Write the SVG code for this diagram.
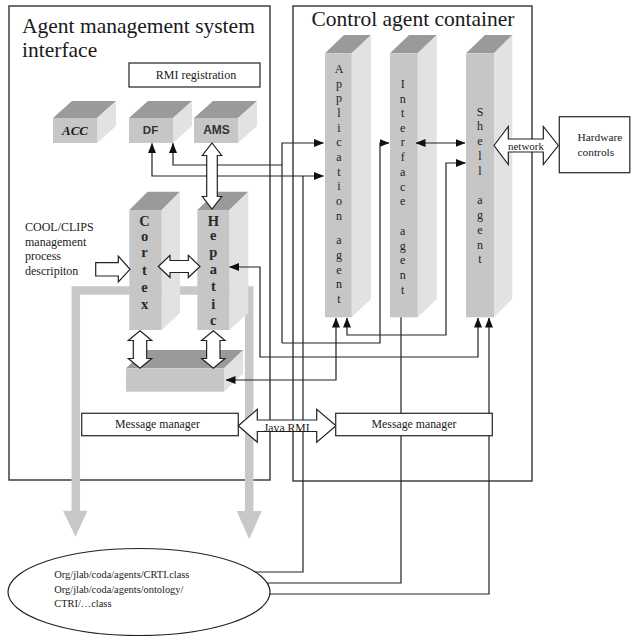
<svg xmlns="http://www.w3.org/2000/svg" width="631" height="636" viewBox="0 0 631 636">
<defs>
<style>
.frame{fill:none;stroke:#333;stroke-width:1.4}
.box{fill:#fff;stroke:#333;stroke-width:1.3}
.top{fill:#9a9a9a}
.front{fill:#c6c6c6}
.side{fill:#e2e2e2}
.hollow{fill:#fff;stroke:#222;stroke-width:1.2;stroke-linejoin:miter}
.c{fill:none;stroke:#222;stroke-width:1.2}
.band{fill:none;stroke:#c8c8c8;stroke-width:8.5}
.serif{font-family:"Liberation Serif","Times New Roman",serif;fill:#1a1a1a}
.sans{font-family:"Liberation Sans",Arial,sans-serif;fill:#333}
.title{font-size:21.5px}
.small{font-size:12px}
.col{font-family:"Liberation Serif","Times New Roman",serif;font-size:12px;fill:#222;text-anchor:middle}
.bcol{font-family:"Liberation Serif","Times New Roman",serif;font-size:14.5px;font-weight:bold;fill:#2a2a2a;text-anchor:middle}
.mid{text-anchor:middle}
</style>
<marker id="ah" markerWidth="10" markerHeight="8" refX="9.5" refY="4" orient="auto-start-reverse" markerUnits="userSpaceOnUse">
<path d="M0,0 L10,4 L0,8 z" fill="#111"/>
</marker>
</defs>
<rect x="0" y="0" width="631" height="636" fill="#fff"/>

<g id="containers">
<rect class="frame" x="9" y="6" width="261" height="474"/>
<rect class="frame" x="293" y="6" width="239" height="475"/>
<text class="serif title" x="22" y="33">Agent management system</text>
<text class="serif title" x="22" y="57">interface</text>
<text class="serif title" x="311.5" y="26">Control agent container</text>
</g>

<g id="gray-band">
<path class="band" d="M75.8,512 V290.5 H249.2 V512"/>
<polygon points="63,510.7 87.5,510.7 75.5,536.7" fill="#c8c8c8"/>
<polygon points="236.7,511 261.7,511 249.2,539.3" fill="#c8c8c8"/>
</g>

<g id="acc">
<polygon class="top" points="53,118 72,101 116,101 97,118"/>
<polygon class="side" points="97,118 116,101 116,126 97,143"/>
<rect class="front" x="53" y="118" width="44" height="25"/>
<text class="serif mid" x="75" y="135" font-size="13" font-weight="bold" font-style="italic" fill="#333">ACC</text>
</g>
<g id="df">
<polygon class="top" points="129,118 148,101 192,101 173,118"/>
<polygon class="side" points="173,118 192,101 192,126 173,143"/>
<rect class="front" x="129" y="118" width="44" height="25"/>
<text class="sans mid" x="150.5" y="134" font-size="11.5" font-weight="bold">DF</text>
</g>
<g id="ams">
<polygon class="top" points="194,118 213,101 257,101 238,118"/>
<polygon class="side" points="238,118 257,101 257,126 238,143"/>
<rect class="front" x="194" y="118" width="44" height="25"/>
<text class="sans mid" x="216.5" y="134" font-size="12" font-weight="bold">AMS</text>
</g>

<g id="cortex">
<polygon class="top" points="129.3,210 147.6,191.7 180,191.7 161.7,210"/>
<polygon class="side" points="161.7,210 180,191.7 180,313 161.7,330"/>
<rect class="front" x="129.3" y="210" width="32.4" height="120"/>
<text class="bcol" x="144.5"><tspan x="144.5" y="225.7">C</tspan><tspan x="144.5" y="240.6">o</tspan><tspan x="144.5" y="257.3">r</tspan><tspan x="144.5" y="275">t</tspan><tspan x="144.5" y="291.6">e</tspan><tspan x="144.5" y="309.3">x</tspan></text>
</g>
<g id="hepatic">
<polygon class="top" points="197.3,210 216,191.7 248.3,191.7 229.3,210"/>
<polygon class="side" points="229.3,210 248.3,191.7 248.3,313 229.3,330"/>
<rect class="front" x="197.3" y="210" width="32" height="120"/>
<text class="bcol" x="213.3"><tspan x="213.3" y="225.7">H</tspan><tspan x="213.3" y="240.3">e</tspan><tspan x="213.3" y="257.3">p</tspan><tspan x="213.3" y="274">a</tspan><tspan x="213.3" y="291">t</tspan><tspan x="213.3" y="309">i</tspan><tspan x="213.3" y="325">c</tspan></text>
</g>
<g id="store">
<polygon class="top" points="126,368.3 145,350 243.3,350 224,368.3"/>
<polygon class="side" points="224,368.3 243.3,350 243.3,373.4 224,391.7"/>
<rect class="front" x="126" y="368.3" width="98" height="23.4"/>
</g>

<g id="application-agent">
<polygon class="top" points="325,53.3 344,35 371,35 351.7,53.3"/>
<polygon class="side" points="351.7,53.3 371,35 371,299 351.7,317.3"/>
<rect class="front" x="325" y="53.3" width="26.7" height="264"/>
<text class="col"><tspan x="339" y="73">A</tspan><tspan x="339" y="87.5">p</tspan><tspan x="339" y="102">p</tspan><tspan x="339" y="117">l</tspan><tspan x="339" y="131.5">i</tspan><tspan x="339" y="146">c</tspan><tspan x="339" y="161">a</tspan><tspan x="339" y="175.5">t</tspan><tspan x="339" y="190">i</tspan><tspan x="339" y="205">o</tspan><tspan x="339" y="219.5">n</tspan><tspan x="339" y="244">a</tspan><tspan x="339" y="259">g</tspan><tspan x="339" y="273.5">e</tspan><tspan x="339" y="288">n</tspan><tspan x="339" y="303">t</tspan></text>
</g>
<g id="interface-agent">
<polygon class="top" points="390,53.3 409,35 436.7,35 417.7,53.3"/>
<polygon class="side" points="417.7,53.3 436.7,35 436.7,299 417.7,317.3"/>
<rect class="front" x="390" y="53.3" width="27.7" height="264"/>
<text class="col"><tspan x="402.7" y="87.5">I</tspan><tspan x="402.7" y="102.5">n</tspan><tspan x="402.7" y="117">t</tspan><tspan x="402.7" y="131.5">e</tspan><tspan x="402.7" y="146">r</tspan><tspan x="402.7" y="160.5">f</tspan><tspan x="402.7" y="175.5">a</tspan><tspan x="402.7" y="190.5">c</tspan><tspan x="402.7" y="205">e</tspan><tspan x="402.7" y="234.5">a</tspan><tspan x="402.7" y="249.5">g</tspan><tspan x="402.7" y="264">e</tspan><tspan x="402.7" y="278.5">n</tspan><tspan x="402.7" y="293.5">t</tspan></text>
</g>
<g id="shell-agent">
<polygon class="top" points="466,53.3 485,35 512.3,35 494,53.3"/>
<polygon class="side" points="494,53.3 512.3,35 512.3,299 494,317.3"/>
<rect class="front" x="466" y="53.3" width="28" height="264"/>
<text class="col"><tspan x="480" y="115.5">S</tspan><tspan x="480" y="130">h</tspan><tspan x="480" y="144.5">e</tspan><tspan x="480" y="159.5">l</tspan><tspan x="480" y="174.5">l</tspan><tspan x="480" y="204">a</tspan><tspan x="480" y="219">g</tspan><tspan x="480" y="233.5">e</tspan><tspan x="480" y="248.5">n</tspan><tspan x="480" y="263">t</tspan></text>
</g>

<g id="connectors">
<path class="c" d="M152,143.5 V176 H323.5" marker-start="url(#ah)" marker-end="url(#ah)"/>
<path class="c" d="M303,176 V572 H200"/>
<path class="c" d="M173,143.5 V165 H282"/>
<path class="c" d="M173,143.5 V150" marker-start="url(#ah)"/>
<path class="c" d="M282,343 V143 H323.5" marker-end="url(#ah)"/>
<path class="c" d="M282,343 H380 V143 H389" marker-end="url(#ah)"/>
<path class="c" d="M416,143 H465" marker-start="url(#ah)" marker-end="url(#ah)"/>
<path class="c" d="M347,318 V335 H446 V163 H465.5" marker-start="url(#ah)" marker-end="url(#ah)"/>
<path class="c" d="M229.5,267 H260 V357 H478 V318" marker-start="url(#ah)" marker-end="url(#ah)"/>
<path class="c" d="M226,380 H336 V318" marker-start="url(#ah)" marker-end="url(#ah)"/>
<path class="c" d="M200,583 H401 V317.3"/>
<path class="c" d="M200,594 H489 V318" marker-end="url(#ah)"/>
</g>

<g id="hollow-arrows">
<polygon class="hollow" points="212,143 221.7,155.5 217.3,155.5 217.3,196.5 221.7,196.5 212,209 202.3,196.5 206.7,196.5 206.7,155.5 202.3,155.5"/>
<polygon class="hollow" points="158.3,266.5 170,255.3 170,260.5 188.3,260.5 188.3,255.3 200,266.5 188.3,277.5 188.3,272.5 170,272.5 170,277.5"/>
<polygon class="hollow" points="95.7,262.7 118.3,262.7 118.3,256 130,269.3 118.3,282 118.3,276 95.7,276"/>
<polygon class="hollow" points="140,330.7 151.7,340.5 146.7,340.5 146.7,358.5 151.7,358.5 140,368.3 128.3,358.5 133.3,358.5 133.3,340.5 128.3,340.5"/>
<polygon class="hollow" points="213.3,330.7 225,340.5 220,340.5 220,358.5 225,358.5 213.3,368.3 201.6,358.5 206.6,358.5 206.6,340.5 201.6,340.5"/>
</g>

<g id="cool-clips">
<text class="serif" font-size="12"><tspan x="25" y="231">COOL/CLIPS</tspan><tspan x="25" y="245.5">management</tspan><tspan x="25" y="260">process</tspan><tspan x="25" y="274.5">descripiton</tspan></text>
</g>

<g id="rmi-registration">
<rect class="box" x="129" y="63" width="131" height="24"/>
<text class="serif small mid" x="196" y="79">RMI registration</text>
</g>

<g id="message-manager-left">
<rect class="box" x="81.7" y="413.3" width="156.6" height="22.4"/>
<text class="serif mid" x="157.5" y="427.5" font-size="11.8">Message manager</text>
</g>
<g id="java-rmi">
<polygon class="hollow" points="238.3,425.7 257.3,409.3 257.3,420 316.7,420 316.7,409.3 336,425.7 316.7,442.3 316.7,431.5 257.3,431.5 257.3,442.3"/>
<text class="serif mid" x="286.7" y="431.5" font-size="11.7" fill="#3a3a4a">Java RMI</text>
</g>
<g id="message-manager-right">
<rect class="box" x="335.7" y="413.3" width="156.6" height="22.4"/>
<text class="serif mid" x="414" y="427.5" font-size="11.8">Message manager</text>
</g>

<g id="network">
<polygon class="hollow" points="494,145.5 508.3,126.5 508.3,139 543.3,139 543.3,126.5 558.3,145.5 543.3,164.5 543.3,152 508.3,152 508.3,164.5"/>
<text class="serif mid" x="526" y="149.5" font-size="11">network</text>
</g>
<g id="hardware-controls">
<rect class="box" x="559.3" y="116.7" width="70.5" height="56"/>
<text class="serif" font-size="11.4"><tspan x="577.5" y="140.5">Hardware</tspan><tspan x="577.5" y="155.5">controls</tspan></text>
</g>

<g id="class-store">
<ellipse cx="139" cy="592" rx="131" ry="43.5" fill="#fff" stroke="#222" stroke-width="1.2"/>
<text class="serif" font-size="10.4" fill="#222"><tspan x="54.3" y="578">Org/jlab/coda/agents/CRTI.class</tspan><tspan x="54.3" y="592.5">Org/jlab/coda/agents/ontology/</tspan><tspan x="54.3" y="607">CTRI/…class</tspan></text>
</g>
</svg>
